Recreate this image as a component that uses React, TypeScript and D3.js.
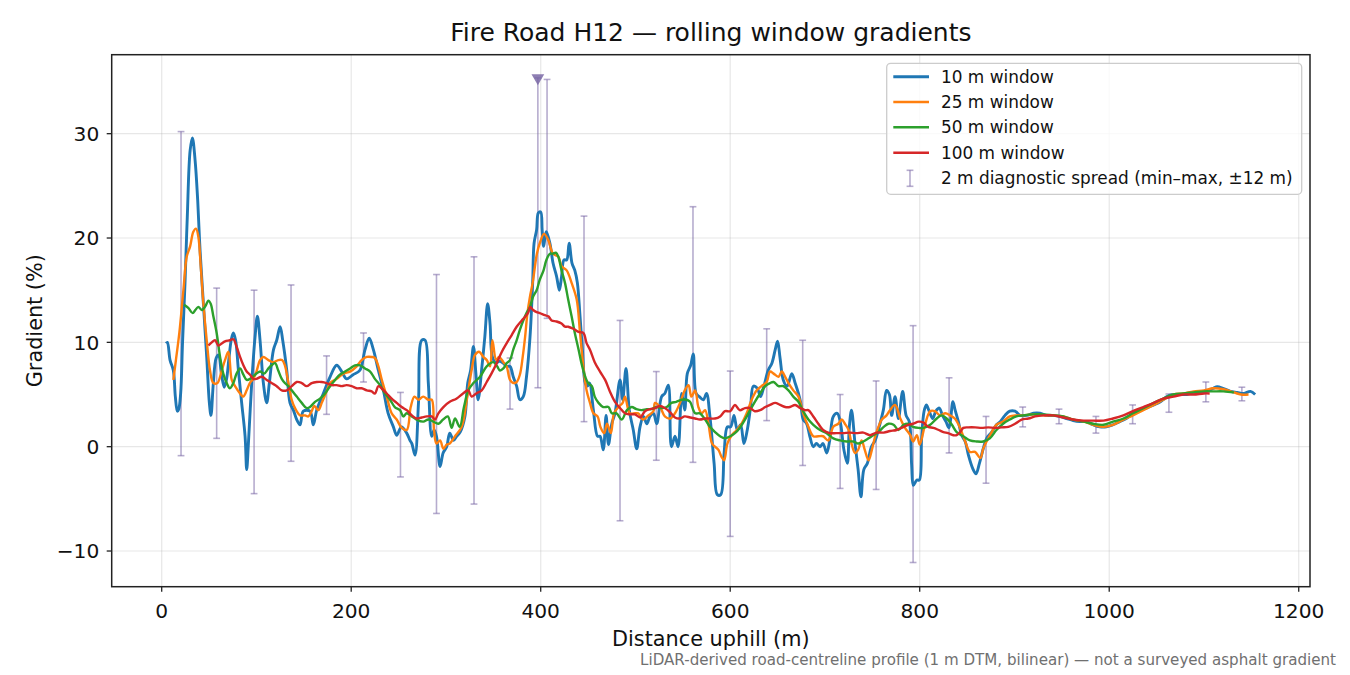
import React from 'react';
import * as d3 from 'd3';

type P = [number, number];

const TITLE = 'Fire Road H12 — rolling window gradients';
const X_LABEL = 'Distance uphill (m)';
const Y_LABEL = 'Gradient (%)';
const FOOTNOTE = 'LiDAR-derived road-centreline profile (1 m DTM, bilinear) — not a surveyed asphalt gradient';
const X_TICKS = [0, 200, 400, 600, 800, 1000, 1200];
const Y_TICKS = [-10, 0, 10, 20, 30];
const SERIES_NAMES = ['10 m window', '25 m window', '50 m window', '100 m window'];
const SERIES_COLORS = ['#1f77b4', '#ff7f0e', '#2ca02c', '#d62728'];
const SPREAD_NAME = '2 m diagnostic spread (min–max, ±12 m)';

const W10: P[] = [[4.6,9.9],[6,10.0],[8.8,8.3],[12.3,7.3],[14.4,4.8],[16.5,3.4],[18,3.6],[20,5.1],[22,10],[24.6,15.7],[27,22],[30,28.4],[32.4,29.6],[35.2,27.5],[38,23.6],[40.5,18.8],[44,13.7],[47.5,8.6],[50.3,4.2],[52,3.0],[54.5,6.1],[57.5,8.5],[60,8.8],[63,7.0],[66,5.7],[68.5,6.5],[71,8.5],[73.5,10.3],[75.6,10.9],[78,10.2],[81,7.3],[84.4,4.2],[88,1.0],[89.7,-2.2],[91.5,0.3],[95,6.1],[98.5,10.5],[101,12.5],[103.8,10.2],[107.3,6.1],[110.8,4.2],[113.6,6.1],[118,9.3],[121.4,10.2],[125,11.5],[127.7,10.2],[132,7.3],[135.4,4.2],[139,3.5],[142.5,2.6],[146,2.1],[149.5,3.4],[156.5,3.4],[160,2.1],[163.6,3.5],[170.6,5.1],[177.7,6.7],[184.7,7.8],[190,7.2],[195,6.5],[202,6.9],[209,7.3],[214.6,9.3],[219,10.4],[223.4,9.3],[228.7,7.3],[234,5.4],[239,3.2],[244.5,1.9],[248,1.1],[253,1.9],[258.6,1.3],[262,0.6],[264,0.3],[267.4,-0.8],[271,4.2],[274.4,10.2],[278,10.2],[281.4,6.1],[285,1.0],[287.5,1.6],[290,1.0],[293.8,-1.9],[297,-0.6],[300.8,0],[304,1.3],[308,0.6],[311.3,1.0],[315,1.4],[320,2.9],[323,6.1],[326,7.3],[329,9.6],[331.6,7.0],[334,4.5],[338,7.7],[341,10.5],[344,13.7],[346.5,11.8],[349,8.6],[353,8.0],[356,8.2],[360.6,8.0],[364,7.7],[367.6,7.7],[371,6.7],[374.6,5.8],[378,4.5],[381.6,4.8],[385,6.7],[388.7,10.5],[391.5,15.7],[393,19.5],[395.7,20.8],[397.5,22.4],[400,22.5],[401.5,20.8],[403,19.2],[404.5,20.0],[406,20.6],[409.7,19.5],[413,17.6],[416.8,16.3],[419.7,15.0],[422,16.3],[424.6,17.9],[427.4,17.9],[430,19.5],[433,17.6],[436,16.9],[438.7,15.7],[441.5,12.5],[444,9.3],[447,6.1],[449.3,5.8],[451.5,6.1],[455.6,3.5],[460,1.0],[462.6,1.0],[466,-0.3],[469,3.0],[471.5,0.2],[475,2.2],[478.4,3.2],[483.7,6.4],[486.5,4.5],[490,7.5],[493.5,3.5],[497.7,1.6],[501.3,-0.2],[504.8,1.9],[508.4,2.9],[512,2.2],[515.3,2.9],[519,3.2],[522.4,2.2],[527.6,4.8],[531,5.1],[534.7,5.9],[538,0],[541.7,1.0],[545,0],[548.8,5.1],[552,3.5],[554.7,7.0],[558.3,7.8],[561,8.9],[564,5.1],[567.4,4.8],[571.7,4.5],[575,5.1],[578.6,2.9],[583,-1.6],[586.4,-4.6],[590,-4.6],[593.6,-0.6],[597,1.9],[600.5,1.9],[604,3.0],[607.5,1.6],[611,2.1],[614.5,0.3],[618,1.6],[621.5,3.8],[624.4,5.8],[628.6,5.6],[632,4.8],[635.6,5.8],[640,7.3],[644,8.0],[647.5,9.3],[650,10.1],[652.6,8.5],[656,6.4],[660,5.8],[665,7.0],[668.5,6.1],[672,5.1],[674.4,4.2],[677,2.6],[680.7,2.2],[684,1.0],[687.7,0],[691,0.3],[694.8,0],[698,0.3],[701.8,-0.6],[705,0.6],[708.8,2.9],[713,3.2],[716.5,2.2],[720,-0.3],[723.6,-1.6],[725.7,1.9],[728,3.5],[731.7,0.3],[735,-2.2],[738,-4.8],[741,-2.2],[744.7,-1.6],[749,0],[753,0.6],[756,1.5],[761.6,3.5],[765,5.4],[768,5.0],[770.4,3.0],[774,4.8],[777.5,2.7],[782,5.3],[785.6,3.0],[789,2.4],[791.5,-1.8],[793.3,-3.7],[797,-3.2],[799.6,-3.2],[802,0.8],[804.6,3.4],[807,4.0],[810,3.4],[813.7,2.7],[817,3.4],[820.7,3.7],[824,3.0],[827.7,2.4],[831,1.8],[835,4.3],[837.4,3.5],[840.8,2.4],[844.3,1.1],[848,0.5],[851.4,-0.8],[856,-2.1],[859.4,-2.6],[863,-1.6],[867,-0.2],[870.6,0.8],[876,1.4],[881,2.1],[885,2.4],[890,3.0],[895,3.4],[900.6,3.4],[906,3.0],[913,3.0],[920,3.2],[927,3.2],[934,3.0],[941,3.0],[948,2.9],[955,2.7],[962,2.5],[969,2.4],[976,2.4],[983,2.1],[990,1.9],[997,1.9],[1004,2.1],[1011,2.4],[1018,2.7],[1025,3.2],[1032,3.5],[1039,3.7],[1047,4.0],[1054,4.3],[1061,4.8],[1068,5.0],[1075,5.0],[1082,5.0],[1089,5.2],[1096,5.2],[1103,5.3],[1110,5.6],[1114,5.75],[1120,5.6],[1128,5.3],[1135,5.2],[1142,5.1],[1149,5.3],[1154,5.0]];

const W25: P[] = [[12.3,6.4],[15,8.3],[18.6,10.9],[22.9,15],[26.4,18.2],[30,19.2],[33.4,20.6],[36.2,20.9],[38.7,20.1],[41.2,17.3],[44,13.7],[47.5,10.2],[51,7.3],[54.5,6.1],[58.8,6.1],[63.3,7.3],[66.8,8.3],[70.4,9.1],[73.9,6.4],[77.4,5.8],[82.7,5.1],[86,4.8],[89.7,5.4],[93,6.1],[96.7,6.5],[100,7.2],[103.8,8.3],[107.3,8.6],[112.6,8.3],[118,8.1],[123,8.3],[127,8.3],[130,7.8],[133.7,6.1],[137.2,4.5],[140.7,3.7],[146,3.0],[151.3,3.0],[154.8,2.9],[158.3,3.4],[161,3.9],[165.3,3.5],[168.9,4.2],[174,5.3],[177.7,6.1],[184.7,6.5],[191.7,7.0],[198.8,7.2],[205.8,7.7],[211,8.3],[216.4,8.6],[221.6,8.6],[225,8.5],[228.7,7.7],[232,6.5],[237.5,4.8],[242.7,3.2],[248,2.6],[253.3,1.8],[258.6,1.6],[262.8,3.8],[266.7,4.8],[271,4.5],[276,4.8],[281.4,4.5],[285,4.5],[287.4,1.6],[290,0.3],[293.8,0.6],[297.3,-0.2],[300.8,0.2],[304,0.3],[309.6,1.0],[316.6,1.9],[322,4.5],[327,7.3],[330.7,8.8],[335,9.1],[339.5,8.6],[343,8.3],[346.5,7.7],[349,10.2],[353,8.3],[356,8.6],[360.6,8.1],[364,7.7],[367.6,6.4],[371,6.1],[374.6,6.2],[378,6.9],[381,8.6],[383.5,10.5],[386,12.8],[388.7,14.4],[391.5,15.7],[396,18.5],[399,19.5],[403.5,20.4],[408,19.8],[413,18.5],[418.6,18.2],[422,17.3],[427.4,16.9],[432.6,15.7],[438,14.1],[441.5,10.9],[445,7.7],[448.4,5.4],[452,4.2],[455.6,3.2],[460,2.9],[463,1.9],[467,1.3],[470,2.2],[474,1.3],[477.4,3.2],[482,3.8],[486.5,4.2],[489,4.8],[494,3.2],[499.5,3.2],[503,3.2],[508,2.6],[513.6,3.0],[519,3.4],[520.6,4.2],[526,3.8],[531,2.9],[536.5,2.7],[541.7,3.2],[547,4.2],[552,5.4],[556,5.9],[559,4.8],[563,5.4],[566.4,3.8],[570,3.2],[573.5,3.5],[577,2.2],[580.8,0.3],[584,0],[587.5,-0.3],[591,-1.0],[593.6,-1.3],[597,0.3],[601.6,1.1],[607,1.6],[612,2.2],[617.4,3.2],[622.6,4.5],[628,5.4],[633,5.8],[638.5,6.2],[642,7.2],[645.8,7.0],[651,6.7],[654.4,7.2],[658,6.7],[661.5,6.1],[666.6,5.4],[672,4.8],[677,3.2],[682.5,1.9],[687.7,1.0],[693,1.0],[698,1.0],[703.5,0.6],[708.8,1.9],[714,2.2],[717.6,2.6],[721,2.2],[725,1.6],[728,0.3],[731.7,-0.6],[735,-0.3],[738.7,0.6],[742,-0.3],[746,-1.3],[749.5,-0.3],[753,1.0],[756.4,1.9],[760,2.6],[765,3.0],[768.6,3.5],[774,4.0],[779.5,2.7],[784.5,1.8],[790,1.1],[793,0.5],[797,1.1],[800,0.2],[805.6,2.1],[811,3.4],[816,3.4],[821.4,3.0],[827,3.2],[832,3.0],[837,2.7],[842.6,1.8],[848,0.5],[853,-0.5],[858.4,-0.5],[864,-1.1],[867,-0.2],[870.6,0.5],[876,1.4],[881,2.1],[888,2.4],[895,2.9],[902,3.0],[909,3.0],[920,3.1],[930.6,3.0],[941,3.0],[951.6,2.9],[962,2.6],[973,2.4],[983,2.1],[994,1.9],[1004,2.1],[1015,2.6],[1025,3.0],[1036,3.5],[1047,4.0],[1057,4.5],[1068,5.0],[1078,5.1],[1089,5.3],[1100,5.4],[1110,5.6],[1120.6,5.5],[1131.6,5.2],[1139,5.0],[1147,5.0]];

const W50: P[] = [[23.6,13.6],[28,13.3],[32.7,12.8],[35.5,13.1],[38.7,13.4],[42.2,13.1],[45.7,13.4],[49.3,14.0],[51.7,13.7],[54.5,12.5],[58,10.9],[61.6,8.6],[65,7.0],[68.6,6.1],[72,5.6],[75.6,6.1],[79,7.0],[82.7,7.5],[86.2,6.9],[89.7,6.4],[93.2,6.5],[98.5,6.9],[103.8,7.2],[108,7.0],[112.6,7.5],[116,7.8],[119.6,8.0],[123,7.3],[126.7,6.5],[130,6.1],[133.7,5.8],[137.2,5.4],[142.5,4.8],[147.8,4.2],[153,3.7],[156.5,3.8],[161.8,4.3],[167,4.6],[172.4,5.1],[177.7,5.8],[183,6.4],[188,6.9],[193.5,7.2],[198.8,7.5],[204,7.8],[209.3,7.8],[214.6,7.5],[220,7.2],[225,6.5],[230.4,5.9],[235.7,5.1],[241,4.5],[246,3.8],[251.5,3.5],[255,2.9],[258.6,3.2],[264,2.9],[269,2.6],[276,2.4],[281.4,2.6],[286.7,2.4],[292,2.2],[297,2.6],[302,2.9],[306,1.8],[309.6,2.7],[314.5,1.9],[319,3.8],[323.6,5.4],[329,6.1],[336,6.7],[343,7.7],[350,8.1],[354,7.7],[357,7.3],[360.6,7.5],[364,8.0],[367.6,8.3],[371,9.3],[374.6,10.2],[378,11.2],[381.6,12.1],[385,12.8],[388.7,13.4],[392,14.4],[395.7,15.0],[399,16.0],[403,16.9],[406,17.9],[409.7,18.5],[413,18.5],[416,18.6],[418.6,18.2],[422,16.9],[425.6,15.7],[429,14.1],[432.6,12.5],[436,10.9],[440,9.3],[443,8.0],[447,6.7],[450,6.1],[454,5.8],[457,4.8],[461,4.2],[466,3.8],[471.5,3.8],[475,3.2],[480,3.2],[485.5,2.6],[491,3.5],[496,3.8],[501,3.6],[506.6,3.5],[512,3.6],[517,3.6],[522.4,3.8],[527.6,3.7],[533,3.8],[538,4.2],[543,4.3],[548.8,4.5],[554,4.5],[557.6,4.3],[563,3.2],[568,3.2],[573.5,2.6],[578.6,1.9],[584,1.4],[589.3,1.0],[594.5,0.8],[600,1.0],[605,1.3],[610,1.8],[615.6,2.6],[621,3.5],[626,4.3],[631.5,5.1],[637,5.8],[642,6.1],[645.8,6.2],[651,5.8],[656,5.8],[661.5,5.4],[666.6,4.8],[672,4.3],[677,3.4],[682.5,2.6],[687.7,2.1],[694.8,1.6],[701.8,1.3],[708.8,0.8],[716,0.6],[723,0.5],[730,0.5],[735,0.3],[740.5,0.5],[746,0.8],[751,1.1],[756.4,1.4],[762,1.9],[767,2.2],[772.4,2.1],[777.5,1.6],[783,2.1],[788,2.2],[793,1.9],[799,1.8],[804,1.8],[811,2.1],[818,2.7],[823,3.0],[828.5,2.7],[834,2.1],[839,1.4],[846,1.0],[853,0.6],[860,0.5],[867,0.5],[874,0.8],[881,1.6],[888,2.2],[895,2.6],[902,2.9],[909,3.0],[920,3.1],[930.6,3.1],[941,3.0],[951.6,2.9],[962,2.6],[973,2.4],[983,2.2],[994,2.1],[1004,2.4],[1015,2.7],[1025,3.2],[1036,3.7],[1047,4.2],[1057,4.6],[1068,5.0],[1078,5.1],[1089,5.2],[1100,5.3],[1110,5.3],[1120.6,5.3],[1131.6,5.2]];

const W100: P[] = [[49.3,9.7],[52.8,10.0],[56.3,10.2],[59.8,9.7],[63.3,9.9],[66.8,10.1],[72,10.2],[75.6,10.3],[79,9.6],[82.7,8.6],[86.2,7.8],[89.7,7.2],[93.2,6.9],[96.7,6.5],[100,6.5],[105.5,6.7],[110.8,6.4],[116,6.1],[121.4,5.8],[126.7,5.4],[132,5.4],[137.2,5.8],[142.5,6.2],[147.8,6.1],[153,5.8],[158.3,6.1],[163.6,6.2],[168.9,6.2],[174,6.1],[179.4,5.9],[184.7,5.9],[190,5.8],[195,5.9],[200.5,5.8],[205.8,5.6],[211,5.6],[216.4,5.4],[221.6,5.3],[225,5.1],[228.7,5.8],[232,5.6],[237.5,5.1],[242.7,4.6],[248,4.2],[253.3,3.8],[258.6,3.5],[264,3.0],[269,2.7],[274.4,2.8],[279.7,2.9],[285,2.9],[288.5,2.6],[292,3.2],[297.3,3.8],[304,4.3],[311,4.6],[318,5.1],[323.6,5.4],[327,4.8],[332,5.1],[337.7,5.4],[343,6.2],[348,7.0],[353.5,8.0],[359,9.1],[364,9.9],[369.4,10.7],[374.6,11.5],[380,12.1],[384,12.5],[387,12.9],[389,13.4],[392,13.1],[395.7,12.9],[399,12.8],[404.5,12.6],[408,12.5],[411.5,12.1],[416.8,12.0],[422,11.8],[425.6,11.5],[429,11.5],[434.5,11.3],[440,11.0],[445,10.9],[448.5,9.9],[452,9.3],[457,8.1],[462.6,7.2],[468,6.4],[473,5.3],[478.4,4.3],[483.7,3.7],[489,3.2],[494,3.1],[499.5,3.1],[505,2.8],[510,3.4],[515.4,3.6],[520.6,3.7],[526,3.9],[531,3.7],[536.5,3.3],[541.7,2.8],[547,2.7],[552,2.9],[557.6,2.8],[563,2.7],[568,2.6],[573.5,2.7],[578.6,2.7],[584,2.7],[589.3,2.9],[594.5,3.4],[600,3.4],[605,4.0],[610,3.5],[615.6,3.7],[621,3.7],[626,3.4],[631.5,3.5],[637,3.8],[642,4.0],[647.5,4.2],[652.6,4.0],[658,3.8],[663,3.8],[668.5,4.0],[674,3.7],[679,3.5],[682.5,3.5],[687.7,2.9],[693,2.2],[698,1.6],[705,1.3],[712,1.3],[719,1.3],[726,1.35],[733,1.3],[740.5,1.35],[747.5,1.1],[754.5,1.35],[762,1.35],[768.6,1.5],[775.6,1.6],[783,1.9],[788,2.1],[793,2.2],[799,2.4],[804,2.3],[809,1.9],[814.4,1.8],[820,1.6],[825,1.4],[830,1.3],[835.5,1.1],[839,1.1],[842.6,1.4],[846,1.8],[851.4,1.85],[858.4,1.85],[865.4,1.8],[872.4,1.85],[879.4,1.8],[886.5,1.85],[893.5,1.9],[900.6,2.2],[907.6,2.6],[914.7,2.7],[921.7,2.9],[930.6,3.0],[941,3.0],[951.6,2.8],[962,2.6],[973,2.5],[983,2.5],[994,2.5],[1004,2.7],[1015,3.0],[1025,3.4],[1036,3.8],[1047,4.2],[1057,4.6],[1068,4.8],[1078,5.0],[1089,5.0],[1100,5.1],[1106,5.1]];

const SPREAD_AT = [20.4, 58, 97.5, 136.5, 174, 213, 252, 290, 329.6, 367.6, 397, 406.7, 445.7, 483.7, 522, 560.7, 600, 638.5, 676.5, 716, 754, 793, 831, 870, 908.7, 947, 986, 1024.7, 1063, 1102, 1140];
const SPREAD_MIN = [-0.86, 0.8, -4.5, -1.4, 3.1, 6.2, -2.9, -6.4, -5.5, 3.6, 5.65, 12.3, 2.4, -7.1, -1.3, -1.5, -8.6, 2.5, -1.8, -4.0, -4.1, -11.1, -0.6, -3.5, 1.9, 2.2, 1.3, 2.2, 3.3, 4.3, 4.4];
const SPREAD_MAX = [30.2, 15.2, 15.0, 15.5, 8.7, 10.9, 5.2, 16.5, 18.2, 8.5, 35.35, 35.2, 22.1, 12.1, 7.2, 23.0, 7.25, 11.3, 10.2, 5.0, 6.3, 11.6, 6.6, 2.9, 3.8, 3.6, 2.9, 4.0, 5.05, 6.2, 5.7];
const PEAK_AT = 397;
const PEAK_VALUE = 35.35;

const SERIES = [W10, W25, W50, W100];
const SERIES_WIDTH = [2.9, 2.4, 2.4, 2.4];

const FONT = 'DejaVu Sans, Verdana, sans-serif';
const L = 111.7, R = 1310, T = 54.7, B = 586.7;
const SPREAD_COLOR = '#7a68a6';

export default function App() {
  const x = d3.scaleLinear().domain([-52.77, 1211.9]).range([L, R]);
  const y = d3.scaleLinear().domain([-13.42, 37.57]).range([B, T]);
  const line = d3.line<P>().x(d => x(d[0])).y(d => y(d[1])).curve(d3.curveCatmullRom.alpha(0.5));
  const cap = 3.4;
  const tri = d3.symbol().type(d3.symbolTriangle).size(70)();

  const legendRows = [76.7, 102, 127.3, 152.7, 178.3];

  return (
    <svg width={1350} height={675} viewBox="0 0 1350 675" style={{ position: 'absolute', left: 0, top: 0, background: '#fff' }} fontFamily={FONT}>
      <rect x={0} y={0} width={1350} height={675} fill="#fff" />
      {/* grid */}
      <g stroke="#b0b0b0" strokeOpacity={0.3} strokeWidth={1.2}>
        {X_TICKS.map(t => <line key={'gx' + t} x1={x(t)} x2={x(t)} y1={T} y2={B} />)}
        {Y_TICKS.map(t => <line key={'gy' + t} x1={L} x2={R} y1={y(t)} y2={y(t)} />)}
      </g>
      {/* spread bars */}
      <g stroke={SPREAD_COLOR} strokeOpacity={0.55} strokeWidth={1.6} fill="none">
        {SPREAD_AT.map((d, i) => (
          <g key={'sp' + i}>
            <line x1={x(d)} x2={x(d)} y1={y(SPREAD_MIN[i])} y2={y(SPREAD_MAX[i])} />
            <line x1={x(d) - cap} x2={x(d) + cap} y1={y(SPREAD_MIN[i])} y2={y(SPREAD_MIN[i])} />
            <line x1={x(d) - cap} x2={x(d) + cap} y1={y(SPREAD_MAX[i])} y2={y(SPREAD_MAX[i])} />
          </g>
        ))}
      </g>
      {/* series */}
      {SERIES.map((s, i) => (
        <path key={'s' + i} d={line(s) || ''} fill="none" stroke={SERIES_COLORS[i]} strokeWidth={SERIES_WIDTH[i]} strokeLinejoin="round" strokeLinecap="butt" />
      ))}
      <path d={tri || ''} transform={`translate(${x(PEAK_AT)},${y(PEAK_VALUE)}) rotate(180)`} fill={SPREAD_COLOR} fillOpacity={0.85} />
      {/* spines */}
      <rect x={L} y={T} width={R - L} height={B - T} fill="none" stroke="#222" strokeWidth={1.5} />
      {/* ticks */}
      <g stroke="#222" strokeWidth={1.3}>
        {X_TICKS.map(t => <line key={'tx' + t} x1={x(t)} x2={x(t)} y1={B} y2={B + 5} />)}
        {Y_TICKS.map(t => <line key={'ty' + t} x1={L - 5} x2={L} y1={y(t)} y2={y(t)} />)}
      </g>
      <g fontSize={20.2} fill="#111">
        {X_TICKS.map(t => <text key={'lx' + t} x={x(t)} y={618.3} textAnchor="middle">{String(t)}</text>)}
        {Y_TICKS.map(t => <text key={'ly' + t} x={99.3} y={y(t) + 7.3} textAnchor="end">{t < 0 ? '−' + Math.abs(t) : String(t)}</text>)}
      </g>
      <text x={(L + R) / 2} y={646} textAnchor="middle" fontSize={20.8} fill="#111">{X_LABEL}</text>
      <text transform={`translate(41.5,${(T + B) / 2}) rotate(-90)`} textAnchor="middle" fontSize={20.8} fill="#111">{Y_LABEL}</text>
      <text x={(L + R) / 2} y={40.5} textAnchor="middle" fontSize={25} fill="#111">{TITLE}</text>
      <text x={1336} y={665} textAnchor="end" fontSize={15.1} fill="#707070">{FOOTNOTE}</text>
      {/* legend */}
      <rect x={886.7} y={63.3} width={415} height={131} rx={4} fill="#fff" fillOpacity={0.8} stroke="#cccccc" strokeWidth={1.3} />
      {SERIES_NAMES.map((n, i) => (
        <g key={'lg' + i}>
          <line x1={893.3} x2={929} y1={legendRows[i]} y2={legendRows[i]} stroke={SERIES_COLORS[i]} strokeWidth={SERIES_WIDTH[i]} />
          <text x={941} y={legendRows[i] + 6} fontSize={16.9} fill="#111">{n}</text>
        </g>
      ))}
      <g stroke={SPREAD_COLOR} strokeOpacity={0.55} strokeWidth={1.6}>
        <line x1={910} x2={910} y1={legendRows[4] - 8} y2={legendRows[4] + 8} />
        <line x1={910 - cap} x2={910 + cap} y1={legendRows[4] - 8} y2={legendRows[4] - 8} />
        <line x1={910 - cap} x2={910 + cap} y1={legendRows[4] + 8} y2={legendRows[4] + 8} />
      </g>
      <text x={941} y={legendRows[4] + 6} fontSize={16.9} fill="#111">{SPREAD_NAME}</text>
    </svg>
  );
}
